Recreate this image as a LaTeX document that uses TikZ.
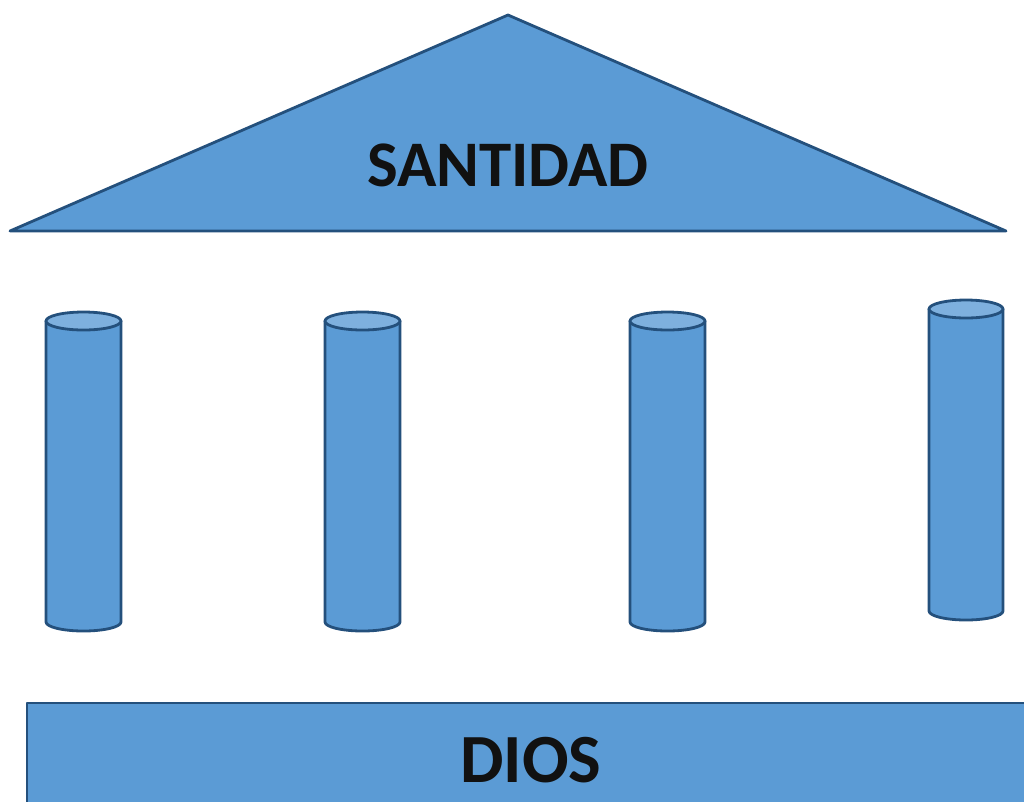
\documentclass[tikz,border=0pt]{standalone}
\usepackage{fontspec}
\setmainfont{Carlito}
\definecolor{fillb}{HTML}{5B9BD5}
\definecolor{topb}{HTML}{7EB0DE}
\definecolor{lineb}{HTML}{24507C}
\definecolor{txt}{HTML}{111111}
\tikzset{
  shapeb/.style={fill=fillb, draw=lineb, line width=2.8pt, line join=round},
  labelb/.style={font=\bfseries, text=txt, inner sep=0pt},
}
\newcommand{\mycol}[4]{% xl, xr, ytop, ybot
  \pgfmathsetmacro{\rx}{(#2-#1)/2}
  \pgfmathsetmacro{\cx}{(#1+#2)/2}
  \draw[shapeb] (#1,#3) -- (#1,#4) arc[start angle=180, end angle=0, x radius=\rx, y radius=9] -- (#2,#3) -- cycle;
  \draw[shapeb, fill=topb] (\cx,#3) ellipse[x radius=\rx, y radius=9];
}
\begin{document}
\begin{tikzpicture}[x=1pt,y=-1pt]
\useasboundingbox (0,0) rectangle (1024,801);
\clip (0,0) rectangle (1024,801);
% roof
\draw[shapeb] (508,15) -- (1006,231) -- (10,231) -- cycle;
\node[labelb, font=\fontsize{65}{65}\selectfont\bfseries] (santidad) at (508,165) {SANTIDAD};
% columns
\mycol{46}{121}{321}{622}
\mycol{325}{400}{321}{622}
\mycol{630}{705}{321}{622}
\mycol{929}{1003}{309}{611}
% base
\draw[shapeb] (27,703) rectangle (1040,820);
\node[labelb, font=\fontsize{69}{69}\selectfont\bfseries] (dios) at (531,760) {DIOS};
\end{tikzpicture}
\end{document}
